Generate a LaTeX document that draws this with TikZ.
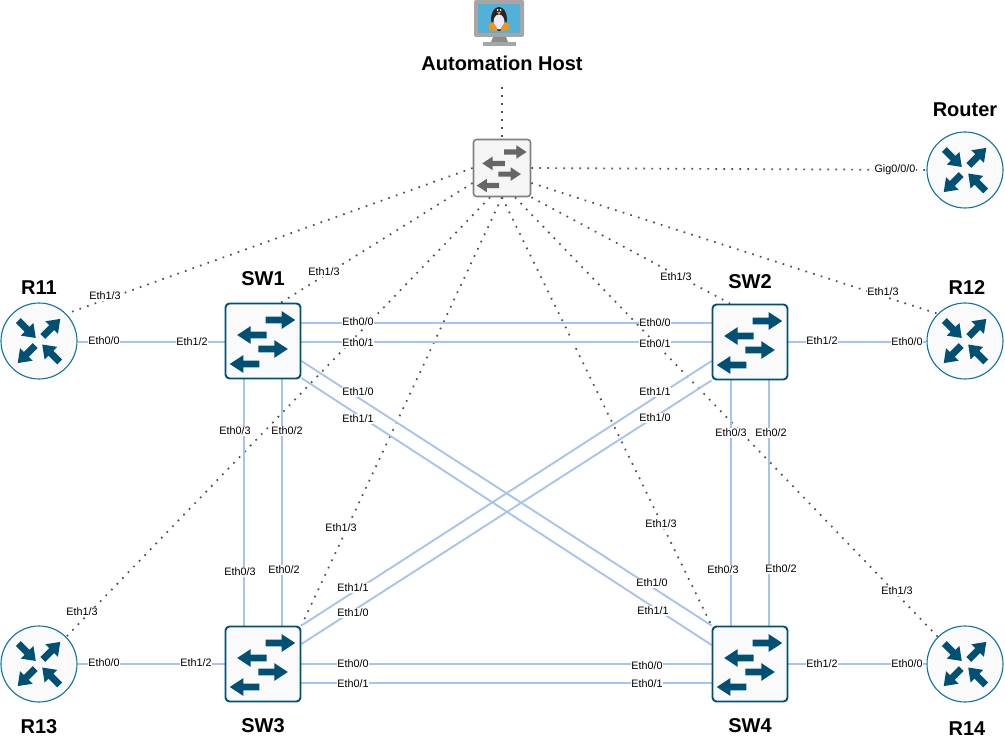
\documentclass[tikz,border=0pt]{standalone}
\usepackage{fontspec}
\setmainfont{Liberation Sans}
\usetikzlibrary{positioning, backgrounds}
\definecolor{swblue}{RGB}{0, 80, 115}
\definecolor{routerline}{RGB}{16, 115, 158}
\definecolor{linkblue}{RGB}{169, 196, 235}
\definecolor{hubgray}{RGB}{102, 102, 102}
\definecolor{hubline}{RGB}{128, 128, 128}
\definecolor{mgmtgray}{RGB}{80, 80, 80}
\definecolor{screenblue}{RGB}{82, 177, 217}
\definecolor{tuxorange}{RGB}{236, 150, 30}
% x, y, rotation, length, start of head
\newcommand{\iconarrow}[5]{\fill[shift={(#1,#2)},rotate=#3] (0,-3.4) -- (#5,-3.4) -- (#5,-8.9) -- (#4,0) -- (#5,8.9) -- (#5,3.4) -- (0,3.4) -- cycle;}
\tikzset{
  router/.style={circle, draw=routerline, fill=gray!4, line width=1.1pt, minimum size=76pt, inner sep=0pt},
  switchbox/.style={rectangle, rounded corners=4pt, draw=swblue, fill=gray!4, line width=1.9pt, minimum size=75pt, inner sep=0pt},
  hubbox/.style={rectangle, rounded corners=3pt, draw=hubline, fill=gray!8, line width=1.6pt, minimum size=57pt, inner sep=0pt},
  title/.style={font=\fontsize{20}{23}\selectfont\bfseries, inner sep=0pt},
  portlabel/.style={font=\fontsize{10.8}{12}\selectfont, fill=white, inner sep=0.6pt},
  datalink/.style={draw=linkblue, line width=1.9pt},
  mgmtlink/.style={draw=mgmtgray, line width=1.7pt, dash pattern=on 1.7pt off 6.3pt},
  routericon/.pic={
    \iconarrow{-20.7}{-20.5}{-45}{24.7}{12.5}
    \iconarrow{3.8}{-4.6}{45}{24.7}{12.5}
    \iconarrow{-3.8}{4.6}{225}{24.7}{12.5}
    \iconarrow{20.7}{21}{135}{24.7}{12.5}
  },
  switchicon/.pic={
    \iconarrow{2.7}{-21}{0}{29.5}{16}
    \iconarrow{3.7}{-6}{180}{29.5}{16}
    \iconarrow{-4.7}{8}{0}{29.5}{16}
    \iconarrow{-3.7}{23}{180}{29.5}{16}
  }
}
\begin{document}
\begin{tikzpicture}[x=1pt, y=-1pt]
    \useasboundingbox (0,0) rectangle (1005,746);

    % Devices
    \node[hubbox] (Hub) at (502,168) {};
    \node[router] (Router) at (965,170) {};
    \node[router] (R11) at (39,341) {};
    \node[router] (R12) at (965,341) {};
    \node[router] (R13) at (39,664) {};
    \node[router] (R14) at (965,664) {};
    \node[switchbox] (SW1) at (263,341) {};
    \node[switchbox] (SW2) at (750,342) {};
    \node[switchbox] (SW3) at (263,664) {};
    \node[switchbox] (SW4) at (750,664) {};
    \coordinate (HostDrop) at (502,87);

    % Titles
    \node[title] (HostTitle) at (502,63) {Automation Host};
    \node[title, above=15pt of Router] (RouterTitle) {Router};
    \node[title, above=8pt of R11] (R11Title) {R11};
    \node[title, above=8pt of R12, xshift=2pt] (R12Title) {R12};
    \node[title, below=17pt of R13] (R13Title) {R13};
    \node[title, below=19pt of R14, xshift=2pt] (R14Title) {R14};
    \node[title, above=17pt of SW1] (SW1Title) {SW1};
    \node[title, above=15pt of SW2] (SW2Title) {SW2};
    \node[title, below=16pt of SW3] (SW3Title) {SW3};
    \node[title, below=16pt of SW4] (SW4Title) {SW4};

    \begin{scope}[on background layer]
        % Management network
        \draw[mgmtlink] (HostDrop) -- (Hub.north);
        \draw[mgmtlink] (Hub.east) -- (Router.west);
        \draw[mgmtlink] (Hub.west) -- (R11.north east);
        \draw[mgmtlink] ([yshift=-15pt]Hub.east) -- (R12.north west);
        \draw[mgmtlink] ([xshift=-12pt]Hub.south) -- (R13.north east);
        \draw[mgmtlink] ([xshift=13pt]Hub.south) -- (R14.north west);
        \draw[mgmtlink] ([yshift=-15pt]Hub.west) -- ([xshift=18pt]SW1.north);
        \draw[mgmtlink] (Hub.south east) -- ([xshift=-20pt]SW2.north);
        \draw[mgmtlink] (Hub.south) -- (SW3.north east);
        \draw[mgmtlink] (Hub.south) -- (SW4.north west);

        % Router uplinks
        \draw[datalink] ([yshift=-1pt]R11.east) -- ([yshift=-1pt]SW1.west);
        \draw[datalink] (SW2.east) -- ([yshift=-1pt]R12.west);
        \draw[datalink] (R13.east) -- (SW3.west);
        \draw[datalink] (SW4.east) -- (R14.west);

        % Switch mesh
        \draw[datalink] ([yshift=18pt]SW1.east) -- ([yshift=19pt]SW2.west);
        \draw[datalink] ([yshift=-1pt]SW1.east) -- (SW2.west);
        \draw[datalink] (SW3.east) -- (SW4.west);
        \draw[datalink] ([yshift=-19pt]SW3.east) -- ([yshift=-19pt]SW4.west);
        \draw[datalink] ([xshift=-19pt]SW1.south) -- ([xshift=-19pt]SW3.north);
        \draw[datalink] ([xshift=19pt]SW1.south) -- ([xshift=19pt]SW3.north);
        \draw[datalink] ([xshift=-19pt]SW2.south) -- ([xshift=-19pt]SW4.north);
        \draw[datalink] ([xshift=19pt]SW2.south) -- ([xshift=19pt]SW4.north);
        \draw[datalink] ([yshift=-20pt]SW1.east) -- (SW4.north west);
        \draw[datalink] ([yshift=-37pt]SW1.east) -- ([yshift=19pt]SW4.west);
        \draw[datalink] ([yshift=-19pt]SW2.west) -- (SW3.north east);
        \draw[datalink] (SW2.south west) -- ([yshift=20pt]SW3.east);
    \end{scope}

    % Icons
    \foreach \dev in {Router, R11, R12, R13, R14}
        \pic[color=swblue] at (\dev) {routericon};
    \foreach \dev in {SW1, SW2, SW3, SW4}
        \pic[color=swblue] at (\dev) {switchicon};
    \pic[color=hubgray, scale=0.763] at (Hub) {switchicon};

    % Automation host screen
    \fill[gray!70, rounded corners=1.5pt] (474,0) rectangle (524,37);
    \fill[screenblue] (478,4) rectangle (520,33);
    \fill[gray!90] (493,37) -- (506,37) -- (508,42) -- (491,42) -- cycle;
    \fill[gray!70] (483,42) rectangle (516,46);
    \fill[black!85] (499,19) ellipse (8pt and 12pt);
    \fill[white!92!blue] (499,22) ellipse (5.5pt and 7.5pt);
    \fill[white] (497.5,10) circle (1pt) (500.5,10) circle (1pt);
    \fill[tuxorange] (497,12) -- (501,12) -- (499,14.5) -- cycle;
    \fill[tuxorange] (489,24) -- (493,22) -- (497,28) -- (497,31) -- (489,30) -- cycle;
    \fill[tuxorange] (509,24) -- (505,22) -- (501,28) -- (501,31) -- (509,30) -- cycle;

    % Port labels
    \foreach \xx/\yy/\port [count=\i] in {
        104/341/{Eth0/0}, 192/342/{Eth1/2}, 105/296/{Eth1/3}, 324/272/{Eth1/3},
        358/322/{Eth0/0}, 655/323/{Eth0/0}, 358/343/{Eth0/1}, 655/344/{Eth0/1},
        358/392/{Eth1/0}, 358/419/{Eth1/1}, 655/392/{Eth1/1}, 655/418/{Eth1/0},
        235/431/{Eth0/3}, 287/431/{Eth0/2}, 731/433/{Eth0/3}, 771/433/{Eth0/2},
        676/277/{Eth1/3}, 883/292/{Eth1/3}, 822/341/{Eth1/2}, 907/342/{Eth0/0},
        895/170/{Gig0/0/0}, 341/528/{Eth1/3}, 661/524/{Eth1/3}, 240/572/{Eth0/3},
        284/570/{Eth0/2}, 723/570/{Eth0/3}, 781/569/{Eth0/2}, 353/588/{Eth1/1},
        353/613/{Eth1/0}, 652/583/{Eth1/0}, 653/611/{Eth1/1}, 82/612/{Eth1/3},
        897/591/{Eth1/3}, 104/663/{Eth0/0}, 196/663/{Eth1/2}, 353/664/{Eth0/0},
        647/666/{Eth0/0}, 353/684/{Eth0/1}, 647/684/{Eth0/1}, 822/664/{Eth1/2},
        907/664/{Eth0/0}}
        \node[portlabel] (port\i) at (\xx,\yy) {\port};
\end{tikzpicture}
\end{document}
